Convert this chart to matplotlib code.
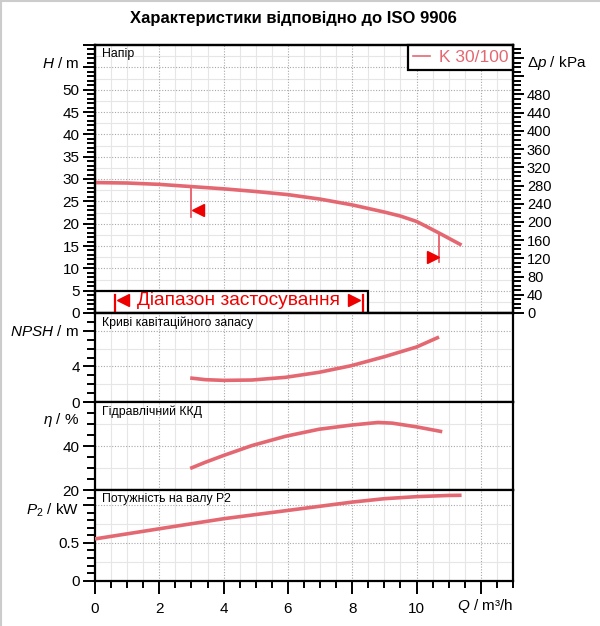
import numpy as np
import matplotlib.pyplot as plt
from matplotlib.patches import Rectangle
from matplotlib.lines import Line2D
from matplotlib.ticker import MultipleLocator, FuncFormatter

plt.rcParams['font.family'] = ['Liberation Sans', 'DejaVu Sans']
plt.rcParams['mathtext.fontset'] = 'custom'
plt.rcParams['mathtext.rm'] = 'Liberation Sans'
plt.rcParams['mathtext.it'] = 'Liberation Sans:italic'

# --- data ---
q_h = [0, 1, 2, 3, 4, 5, 6, 7, 8, 9, 9.5, 10, 10.3, 10.7, 11.4]
head = [29.2, 29.1, 28.8, 28.3, 27.8, 27.2, 26.5, 25.5, 24.2, 22.6, 21.7, 20.5, 19.4, 17.9, 15.2]

q_npsh = [2.96, 3.43, 4.0, 4.88, 5.92, 6.96, 7.97, 9.03, 10.0, 10.7]
npsh = [2.70, 2.51, 2.43, 2.47, 2.77, 3.33, 4.08, 5.12, 6.18, 7.30]

q_eta = [2.96, 3.43, 4.0, 4.88, 5.92, 6.96, 7.97, 8.8, 9.24, 10.0, 10.8]
eta = [29.8, 32.6, 35.7, 40.2, 44.4, 47.6, 49.5, 50.7, 50.4, 48.7, 46.5]

q_p2 = [0, 2, 4, 6, 7, 8, 9, 10, 11, 11.4]
p2 = [0.553, 0.687, 0.82, 0.93, 0.985, 1.04, 1.085, 1.112, 1.128, 1.13]

q_limits = [3.0, 10.7]        # operating limits (flags on H curve)
h_limit_low = [21.6, 11.5]
h_limit_flag = [23.0, 12.6]
app_range = [0.62, 8.32]       # "Діапазон застосування"
app_box_q = 8.5

c_curve = '#e46872'
c_red = '#ee0000'
W, HT = 600, 626


def rect(x0, y0, x1, y1):
    return [x0 / W, 1 - y1 / HT, (x1 - x0) / W, (y1 - y0) / HT]


fig = plt.figure(figsize=(6.0, 6.26), dpi=100)

axH = fig.add_axes(rect(95, 45, 513, 313))
axN = fig.add_axes(rect(95, 313, 513, 402))
axE = fig.add_axes(rect(95, 402, 513, 490))
axP = fig.add_axes(rect(95, 490, 513, 580.7))

panels = [
    (axH, (0, 60), 5, 1, 5, 2.5, [55, 60]),
    (axN, (0, 10), 4, 1, 4, 2, [8]),
    (axE, (20, 60), 20, 5, 20, 10, [60]),
    (axP, (0, 1.2), 0.5, 0.1, 0.5, 0.25, [1.0]),
]

for ax, ylim, ymaj, ymin, gmaj, gmin, hide in panels:
    ax.set_xlim(0, 13)
    ax.set_ylim(*ylim)
    for s in ax.spines.values():
        s.set_linewidth(1.6)
    # grid
    for q in np.arange(0.5, 13, 0.5):
        if q % 2 == 0:
            ax.axvline(q, color='#a8a8a8', ls=(0, (1, 1.5)), lw=0.8, zorder=1)
        else:
            ax.axvline(q, color='#e6e6e6', ls='-', lw=0.8, zorder=0.5)
    for y in np.arange(ylim[0] + gmin, ylim[1], gmin):
        if abs(round((y - ylim[0]) / gmaj) * gmaj - (y - ylim[0])) < 1e-9:
            ax.axhline(y, color='#a8a8a8', ls=(0, (1, 1.5)), lw=0.8, zorder=1)
        else:
            ax.axhline(y, color='#e6e6e6', ls='-', lw=0.8, zorder=0.5)
    ax.yaxis.set_major_locator(MultipleLocator(ymaj))
    ax.yaxis.set_minor_locator(MultipleLocator(ymin))
    ax.yaxis.set_major_formatter(FuncFormatter(
        lambda v, p, hide=hide: '' if any(abs(v - h) < 1e-9 for h in hide) else '%g' % v))
    ax.tick_params(axis='y', which='major', direction='out', length=9, width=1.4,
                   labelsize=11, pad=2)
    ax.tick_params(axis='y', which='minor', direction='out', length=6, width=1.4)
    ax.xaxis.set_major_locator(MultipleLocator(2))
    ax.xaxis.set_minor_locator(MultipleLocator(0.5))
    if ax is not axP:
        ax.tick_params(axis='x', which='both', length=0, labelbottom=False)

axP.xaxis.set_major_formatter(FuncFormatter(lambda v, p: '' if v > 11 else '%g' % v))
axP.tick_params(axis='x', which='major', direction='out', length=9, width=1.4,
                labelsize=11, pad=6)
axP.tick_params(axis='x', which='minor', direction='out', length=5, width=1.4)

# curves
for ax, xs, ys in [(axH, q_h, head), (axN, q_npsh, npsh), (axE, q_eta, eta), (axP, q_p2, p2)]:
    ax.plot(xs, ys, color=c_curve, lw=2.6, solid_capstyle='butt', solid_joinstyle='round',
            zorder=5)

# operating limit flags
for i, (ql, hl, hf) in enumerate(zip(q_limits, h_limit_low, h_limit_flag)):
    hc = np.interp(ql, q_h, head)
    axH.plot([ql, ql], [hc, hl], color='#e8505c', lw=1.2, zorder=4)
    if i == 0:
        axH.plot(ql + 0.2, hf, marker='<', ms=9, color=c_red, mec=c_red, zorder=6)
    else:
        axH.plot(ql - 0.2, hf, marker='>', ms=9, color=c_red, mec=c_red, zorder=6)

# application range box
axH.add_patch(Rectangle((0, 0), app_box_q, 5, fc='white', ec='black', lw=1.6, zorder=3,
                        clip_on=False))
axH.plot([app_range[0]] * 2, [0, 4.0], color=c_red, lw=1.6, zorder=4)
axH.plot([app_range[1]] * 2, [0, 4.0], color=c_red, lw=1.6, zorder=4)
axH.plot(app_range[0] + 0.25, 2.8, marker='<', ms=8, color=c_red, mec=c_red, zorder=4)
axH.plot(app_range[1] - 0.28, 2.8, marker='>', ms=8, color=c_red, mec=c_red, zorder=4)
axH.text(sum(app_range) / 2, 2.7, 'Діапазон застосування', color=c_red, fontsize=13.8,
         ha='center', va='center', zorder=4)

# legend
leg = axH.legend(handles=[Line2D([], [], color=c_curve, lw=1.2)], labels=['K 30/100'],
                 loc='upper right', borderaxespad=0, fancybox=False, edgecolor='black',
                 framealpha=1, fontsize=12.5, handlelength=1.0, handletextpad=0.5,
                 borderpad=0.28)
leg.get_frame().set_linewidth(1.6)
leg.set_zorder(7)
for t in leg.get_texts():
    t.set_color(c_curve)

# right pressure axis
axDp = axH.twinx()
axDp.set_ylim(0, 60 * 9.81)
axDp.yaxis.set_major_locator(MultipleLocator(40))
axDp.yaxis.set_minor_locator(MultipleLocator(10))
axDp.yaxis.set_major_formatter(FuncFormatter(lambda v, p: '' if v > 480 else '%g' % v))
axDp.tick_params(axis='y', which='major', direction='out', length=8, width=1.4,
                 labelsize=10.5, pad=2)
axDp.tick_params(axis='y', which='minor', direction='out', length=6, width=1.4)
for s in axDp.spines.values():
    s.set_linewidth(1.6)

# panel titles
for ax, name in [(axH, 'Напір'), (axN, 'Криві кавітаційного запасу'),
                 (axE, 'Гідравлічний ККД'), (axP, 'Потужність на валу P2')]:
    ax.annotate(name, xy=(0, 1), xycoords='axes fraction', xytext=(5, -2.5),
                textcoords='offset points', va='top', ha='left', fontsize=8.8, zorder=8)

# axis labels
def ftext(x, y, s, **kw):
    fig.text(x / W, 1 - y / HT, s, va='center', fontsize=11, **kw)


ftext(79, 63, r'$H$ / m', ha='right')
ftext(79, 331, r'$NPSH$ / m', ha='right')
ftext(79, 420, r'$\eta$ / %', ha='right')
ftext(79, 510, r'$P_2$ / kW', ha='right')
ftext(513, 606, r'$Q$ / m³/h', ha='right')
ftext(527, 63, r'$\Delta p$ / kPa', ha='left')

fig.text(293 / W, 1 - 18 / HT, 'Характеристики відповідно до ISO 9906', ha='center',
         va='center', fontsize=12, weight='bold')

fig.add_artist(Line2D([0.002, 0.002], [0, 1], color='#cccccc', lw=1.5))
fig.add_artist(Line2D([0, 1], [0.998, 0.998], color='#cccccc', lw=1.5))

fig.savefig('out.png', dpi=100)
